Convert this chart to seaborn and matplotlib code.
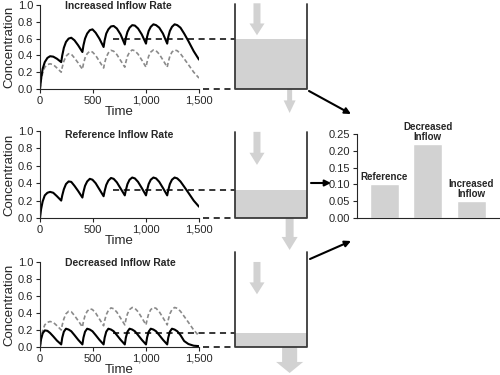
import matplotlib
matplotlib.use('Agg')
import matplotlib.pyplot as plt
from matplotlib.patches import Rectangle, FancyArrow
import seaborn as sns

# time grid (dose given every 200 time units)
time = [0, 10, 25, 45, 70, 95, 125, 160,
        200, 210, 225, 245, 270, 295, 325, 360,
        400, 410, 425, 445, 470, 495, 525, 560,
        600, 610, 625, 645, 670, 695, 725, 760,
        800, 810, 825, 845, 870, 895, 925, 960,
        1000, 1010, 1025, 1045, 1070, 1095, 1125, 1160,
        1200, 1210, 1225, 1245, 1270, 1295, 1325, 1360, 1400, 1450, 1500]

reference = [0, 0.10, 0.19, 0.26, 0.29, 0.30, 0.29, 0.25,
             0.20, 0.26, 0.33, 0.39, 0.42, 0.415, 0.37, 0.31,
             0.235, 0.30, 0.37, 0.42, 0.45, 0.44, 0.40, 0.33,
             0.25, 0.31, 0.38, 0.43, 0.46, 0.45, 0.41, 0.34,
             0.26, 0.32, 0.39, 0.44, 0.465, 0.455, 0.415, 0.345,
             0.26, 0.32, 0.39, 0.44, 0.465, 0.455, 0.415, 0.345,
             0.26, 0.32, 0.39, 0.44, 0.465, 0.455, 0.42, 0.36, 0.29, 0.20, 0.13]

increased = [0, 0.12, 0.24, 0.32, 0.37, 0.39, 0.385, 0.36,
             0.32, 0.40, 0.49, 0.56, 0.60, 0.61, 0.58, 0.52,
             0.44, 0.52, 0.60, 0.66, 0.70, 0.71, 0.67, 0.60,
             0.50, 0.58, 0.66, 0.71, 0.745, 0.75, 0.72, 0.65,
             0.53, 0.61, 0.68, 0.73, 0.76, 0.755, 0.72, 0.65,
             0.54, 0.62, 0.69, 0.74, 0.77, 0.76, 0.73, 0.66,
             0.54, 0.62, 0.69, 0.74, 0.77, 0.76, 0.73, 0.66, 0.57, 0.45, 0.35]

decreased = [0, 0.09, 0.16, 0.195, 0.19, 0.165, 0.125, 0.075,
             0.03, 0.11, 0.18, 0.215, 0.205, 0.185, 0.14, 0.085,
             0.03, 0.11, 0.18, 0.215, 0.205, 0.185, 0.14, 0.085,
             0.03, 0.11, 0.18, 0.215, 0.205, 0.185, 0.14, 0.085,
             0.03, 0.11, 0.18, 0.215, 0.205, 0.185, 0.14, 0.085,
             0.03, 0.11, 0.18, 0.215, 0.205, 0.185, 0.14, 0.085,
             0.03, 0.11, 0.18, 0.215, 0.205, 0.185, 0.14, 0.07, 0.035, 0.015, 0.01]

titles = ['Increased Inflow Rate', 'Reference Inflow Rate', 'Decreased Inflow Rate']
tank_level = [0.60, 0.32, 0.165]

bar_names = ['Reference', 'Decreased\nInflow', 'Increased\nInflow']
bar_values = [0.10, 0.22, 0.05]

GREY = '#d2d2d2'
WALL = '#3a3a3a'

sns.set_style('ticks')
plt.rcParams['font.family'] = ['Liberation Sans', 'DejaVu Sans']
plt.rcParams['axes.linewidth'] = 0.8
plt.rcParams['xtick.major.width'] = 0.8
plt.rcParams['ytick.major.width'] = 0.8
plt.rcParams['xtick.major.size'] = 3
plt.rcParams['ytick.major.size'] = 3
plt.rcParams['xtick.major.pad'] = 2
plt.rcParams['ytick.major.pad'] = 2

fig = plt.figure(figsize=(5, 3.75), dpi=100)

# panel boxes [left, bottom, width, height] in figure fractions
boxes = [[0.08, 0.7627, 0.318, 0.224],
         [0.08, 0.4187, 0.318, 0.232],
         [0.08, 0.0747, 0.318, 0.2267]]
solid = [increased, reference, decreased]
show_ref = [True, False, True]
wall_top = [1.01, 0.99, 1.12]
inflow_top = [1.02, 0.99, 1.0]
title_y = [0.99, 0.954, 0.99]
# outflow arrows: shaft width, head width, length, head length (data units)
outflow = [(47, 113, 0.286, 0.15), (75, 151, 0.368, 0.15), (142, 255, 0.306, 0.13)]

tank_x0, tank_x1 = 1840, 2519
inflow_x, outflow_x = 2047, 2355

for i, box in enumerate(boxes):
    ax = fig.add_axes(box)
    if show_ref[i]:
        sns.lineplot(x=time, y=reference, ax=ax, color='#8a8a8a', lw=1.2,
                     linestyle=(0, (2.5, 1.5)), estimator=None, sort=False)
    sns.lineplot(x=time, y=solid[i], ax=ax, color='black', lw=1.5,
                 estimator=None, sort=False)
    ax.set_xlim(0, 1500)
    ax.set_ylim(0, 1.0)
    ax.set_xticks([0, 500, 1000, 1500])
    ax.set_xticklabels(['0', '500', '1,000', '1,500'], fontsize=8)
    ax.set_yticks([0, 0.2, 0.4, 0.6, 0.8, 1.0])
    ax.set_yticklabels(['0.0', '0.2', '0.4', '0.6', '0.8', '1.0'], fontsize=8)
    ax.set_xlabel('Time', fontsize=9.5, labelpad=0)
    ax.set_ylabel('Concentration', fontsize=9.5, labelpad=2)
    sns.despine(ax=ax)
    ax.text(0.157, title_y[i], titles[i], transform=ax.transAxes, fontsize=7.5,
            fontweight='bold', va='center', ha='left')

    lvl = tank_level[i]
    # dashed guide lines into the tank
    ax.plot([690, tank_x0], [lvl, lvl], color='black', lw=1.1,
            linestyle=(0, (4, 3)), clip_on=False)
    ax.plot([1538, tank_x0], [0, 0], color='black', lw=1.1,
            linestyle=(0, (4, 3)), clip_on=False)

    # tank
    ax.add_patch(Rectangle((tank_x0, 0), tank_x1 - tank_x0, lvl, color=GREY,
                           lw=0, clip_on=False, zorder=1))
    ax.plot([tank_x0, tank_x0, tank_x1, tank_x1], [wall_top[i], 0, 0, wall_top[i]],
            color=WALL, lw=1.3, clip_on=False, zorder=3)

    # inflow arrow
    ax.add_patch(FancyArrow(inflow_x, inflow_top[i], 0, -0.38, width=66,
                            head_width=142, head_length=0.14,
                            length_includes_head=True, color=GREY, lw=0,
                            clip_on=False))
    # outflow arrow
    sw, hw, ln, hl = outflow[i]
    ax.add_patch(FancyArrow(outflow_x, 0, 0, -ln, width=sw, head_width=hw,
                            head_length=hl, length_includes_head=True,
                            color=GREY, lw=0, clip_on=False))

# bar chart
bx = fig.add_axes([0.714, 0.4187, 0.286, 0.224])
sns.barplot(x=bar_names, y=bar_values, ax=bx, color=GREY, saturation=1, width=0.667)
bx.set_xlim(-0.63, 2.66)
bx.set_ylim(0, 0.25)
bx.set_yticks([0, 0.05, 0.10, 0.15, 0.20, 0.25])
bx.set_yticklabels(['0.00', '0.05', '0.10', '0.15', '0.20', '0.25'], fontsize=8)
bx.set_xticks([])
bx.set_xlabel('')
sns.despine(ax=bx)
for k, (name, v) in enumerate(zip(bar_names, bar_values)):
    bx.text(k, v + 0.006, name, ha='center', va='bottom', fontsize=7,
            fontweight='bold', linespacing=1.05)

# black connector arrows in pixel space
ov = fig.add_axes([0, 0, 1, 1])
ov.set_xlim(0, 500)
ov.set_ylim(375, 0)
ov.axis('off')
ov.patch.set_alpha(0)
for (x0, y0, x1, y1) in [(309, 91, 351, 114), (311, 183, 331, 183), (310, 259, 351, 241)]:
    ov.annotate('', xy=(x1, y1), xytext=(x0, y0),
                arrowprops=dict(arrowstyle='-|>', color='black', lw=1.5,
                                mutation_scale=9, shrinkA=0, shrinkB=0))

fig.savefig('out.png', dpi=100)
